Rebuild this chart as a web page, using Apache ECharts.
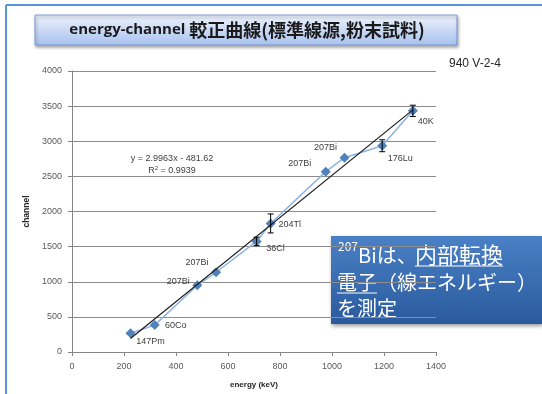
<!DOCTYPE html>
<html>
<head>
<meta charset="utf-8">
<script src="https://cdn.jsdelivr.net/npm/echarts@6/dist/echarts.min.js"></script>
<style>
  html, body { margin: 0; padding: 0; background: #fff; }
  #main { width: 542px; height: 394px; }
</style>
</head>
<body>
<div id="main"></div>
<script>
// source names and measured points (energy in keV, channel)
var sources = ['147Pm', '60Co', '207Bi', '207Bi', '36Cl', '204Tl', '207Bi', '207Bi', '176Lu', '40K'];
var energy = [225, 318, 482, 554, 710, 764, 976, 1048, 1193, 1311];
var channel = [268, 383, 950, 1135, 1574, 1830, 2567, 2766, 2936, 3433];
var chErr = [0, 0, 0, 0, 60, 135, 0, 0, 85, 80];

// linear fit shown on the chart
var slope = 2.9963;
var intercept = -481.62;
var r2 = 0.9939;

var xTicks = [0, 1400, 200];
var yTicks = [0, 4000, 500];

// label offsets from the point (px), per source
var labelOff = [[20, 8], [21, 0], [-19, -4], [-19, -10], [19, 7], [19, 1], [-26, -8], [-19, -10], [18, 13], [13, 11]];

var myChart = echarts.init(document.getElementById('main'));

var pts = energy.map(function (e, i) {
    return {
        value: [e, channel[i]],
        label: {
            show: true,
            position: 'inside',
            offset: labelOff[i],
            formatter: sources[i],
            color: '#404040',
            fontSize: 9,
            fontFamily: 'Liberation Sans'
        }
    };
});

var xa = energy[0], xb = energy[energy.length - 1];
var fit = [[xa, slope * xa + intercept], [xb, slope * xb + intercept]];

var errData = energy.map(function (e, i) { return [e, channel[i], chErr[i]]; });

var plain = function (v) { return String(v); };

var option = {
    animation: false,
    grid: { left: 72, right: 106, top: 71, bottom: 41 },
    xAxis: {
        type: 'value',
        min: xTicks[0], max: xTicks[1], interval: xTicks[2],
        name: 'energy (keV)',
        nameLocation: 'middle',
        nameGap: 29,
        nameTextStyle: { fontSize: 8, fontWeight: 'bold', color: '#262626', fontFamily: 'Liberation Sans' },
        axisLine: { lineStyle: { color: '#868686' } },
        axisTick: { show: true, length: 4, lineStyle: { color: '#868686' } },
        splitLine: { show: false },
        axisLabel: { fontSize: 9, color: '#595959', margin: 10, fontFamily: 'Liberation Sans', formatter: plain }
    },
    yAxis: {
        type: 'value',
        min: yTicks[0], max: yTicks[1], interval: yTicks[2],
        name: 'channel',
        nameLocation: 'middle',
        nameGap: 36,
        nameTextStyle: { fontSize: 8.5, fontWeight: 'bold', color: '#262626', fontFamily: 'Liberation Sans' },
        axisLine: { show: true, lineStyle: { color: '#868686' } },
        axisTick: { show: true, length: 4, lineStyle: { color: '#868686' } },
        splitLine: { lineStyle: { color: '#8c8c8c', width: 1 } },
        axisLabel: { fontSize: 9, color: '#595959', margin: 10, fontFamily: 'Liberation Sans', formatter: plain }
    },
    series: [
        {
            type: 'line',
            data: pts,
            symbol: 'diamond',
            symbolSize: 10,
            itemStyle: { color: '#4F81BD' },
            lineStyle: { color: '#8DB3E2', width: 1.5 },
            z: 3
        },
        {
            type: 'line',
            data: fit,
            symbol: 'none',
            lineStyle: { color: '#1a1a1a', width: 1.2 },
            z: 4,
            silent: true
        },
        {
            type: 'custom',
            data: errData,
            z: 5,
            renderItem: function (params, api) {
                var e = api.value(2);
                if (!e) return;
                var x = api.value(0), y = api.value(1);
                var hi = api.coord([x, y + e]);
                var lo = api.coord([x, y - e]);
                var w = 3;
                var st = { stroke: '#000', lineWidth: 1 };
                return {
                    type: 'group',
                    children: [
                        { type: 'line', shape: { x1: hi[0], y1: hi[1], x2: lo[0], y2: lo[1] }, style: st },
                        { type: 'line', shape: { x1: hi[0] - w, y1: hi[1], x2: hi[0] + w, y2: hi[1] }, style: st },
                        { type: 'line', shape: { x1: lo[0] - w, y1: lo[1], x2: lo[0] + w, y2: lo[1] }, style: st }
                    ]
                };
            }
        }
    ],
    graphic: [
        // slide frame
        { type: 'line', shape: { x1: 6, y1: 5, x2: 542, y2: 5 }, style: { stroke: '#5B93DA', lineWidth: 2 } },
        { type: 'line', shape: { x1: 6, y1: 5, x2: 6, y2: 394 }, style: { stroke: '#5B93DA', lineWidth: 2 } },
        // title box
        {
            type: 'rect',
            shape: { x: 35, y: 15, width: 422, height: 30 },
            style: {
                fill: new echarts.graphic.LinearGradient(0, 0, 0, 1, [
                    { offset: 0, color: '#EEF3FC' },
                    { offset: 1, color: '#A7C1EE' }
                ]),
                stroke: '#7C9BD6', lineWidth: 1,
                shadowBlur: 3, shadowOffsetX: 1, shadowOffsetY: 2, shadowColor: 'rgba(0,0,0,0.35)'
            }
        },
        {
            type: 'text',
            x: 247, y: 30,
            style: {
                text: '{a|energy-channel }{b|較正曲線(標準線源,粉末試料)}',
                align: 'center', verticalAlign: 'middle',
                rich: {
                    a: { fontSize: 15, fontWeight: 'bold', fontFamily: 'Open Sans', fill: '#1a1a1a' },
                    b: { fontSize: 18, fontWeight: 'bold', fontFamily: 'Noto Sans CJK JP', fill: '#1a1a1a' }
                }
            }
        },
        { type: 'text', x: 449, y: 64, style: { text: '940 V-2-4', fontSize: 12, fontFamily: 'Liberation Sans', fill: '#262626', verticalAlign: 'middle' } },
        // fit equation
        { type: 'text', x: 172, y: 159, style: { text: 'y = ' + slope + 'x - ' + Math.abs(intercept), fontSize: 9, fontFamily: 'Liberation Sans', fill: '#404040', align: 'center', verticalAlign: 'middle' } },
        { type: 'text', x: 172, y: 171, style: { text: '{a|R}{s|2}{a| = ' + r2 + '}', align: 'center', verticalAlign: 'middle',
            rich: { a: { fontSize: 9, fontFamily: 'Liberation Sans', fill: '#404040' }, s: { fontSize: 6, fontFamily: 'Liberation Sans', fill: '#404040', padding: [0, 0, 5, 0] } } } },
        // note box
        {
            type: 'rect',
            shape: { x: 331, y: 236, width: 211, height: 88 },
            style: {
                fill: new echarts.graphic.LinearGradient(0, 0, 0, 1, [
                    { offset: 0, color: '#4A80C6' },
                    { offset: 1, color: '#2A5A9D' }
                ]),
                shadowBlur: 4, shadowOffsetX: 1, shadowOffsetY: 2, shadowColor: 'rgba(0,0,0,0.4)'
            }
        },
        { type: 'text', x: 338, y: 246, style: { text: '207', fontSize: 12, fontFamily: 'Noto Sans CJK JP', fill: '#fff', verticalAlign: 'middle' } },
        { type: 'text', x: 358, y: 255, style: { text: 'Biは、', fontSize: 20, fontFamily: 'Noto Sans CJK JP', fill: '#fff', verticalAlign: 'middle' } },
        { type: 'text', x: 415, y: 255, style: { text: '内部転換', fontSize: 22, fontFamily: 'Noto Sans CJK JP', fill: '#fff', verticalAlign: 'middle' } },
        { type: 'text', x: 337, y: 282, style: { text: '電子（線エネルギー）', fontSize: 20, fontFamily: 'Noto Sans CJK JP', fill: '#fff', verticalAlign: 'middle' } },
        { type: 'text', x: 337, y: 308, style: { text: 'を測定', fontSize: 20, fontFamily: 'Noto Sans CJK JP', fill: '#fff', verticalAlign: 'middle' } },
        { type: 'line', shape: { x1: 415, y1: 266, x2: 503, y2: 266 }, style: { stroke: '#fff', lineWidth: 1 } },
        { type: 'line', shape: { x1: 337, y1: 293, x2: 377, y2: 293 }, style: { stroke: '#fff', lineWidth: 1 } }
    ]
};

myChart.setOption(option);
</script>
</body>
</html>
